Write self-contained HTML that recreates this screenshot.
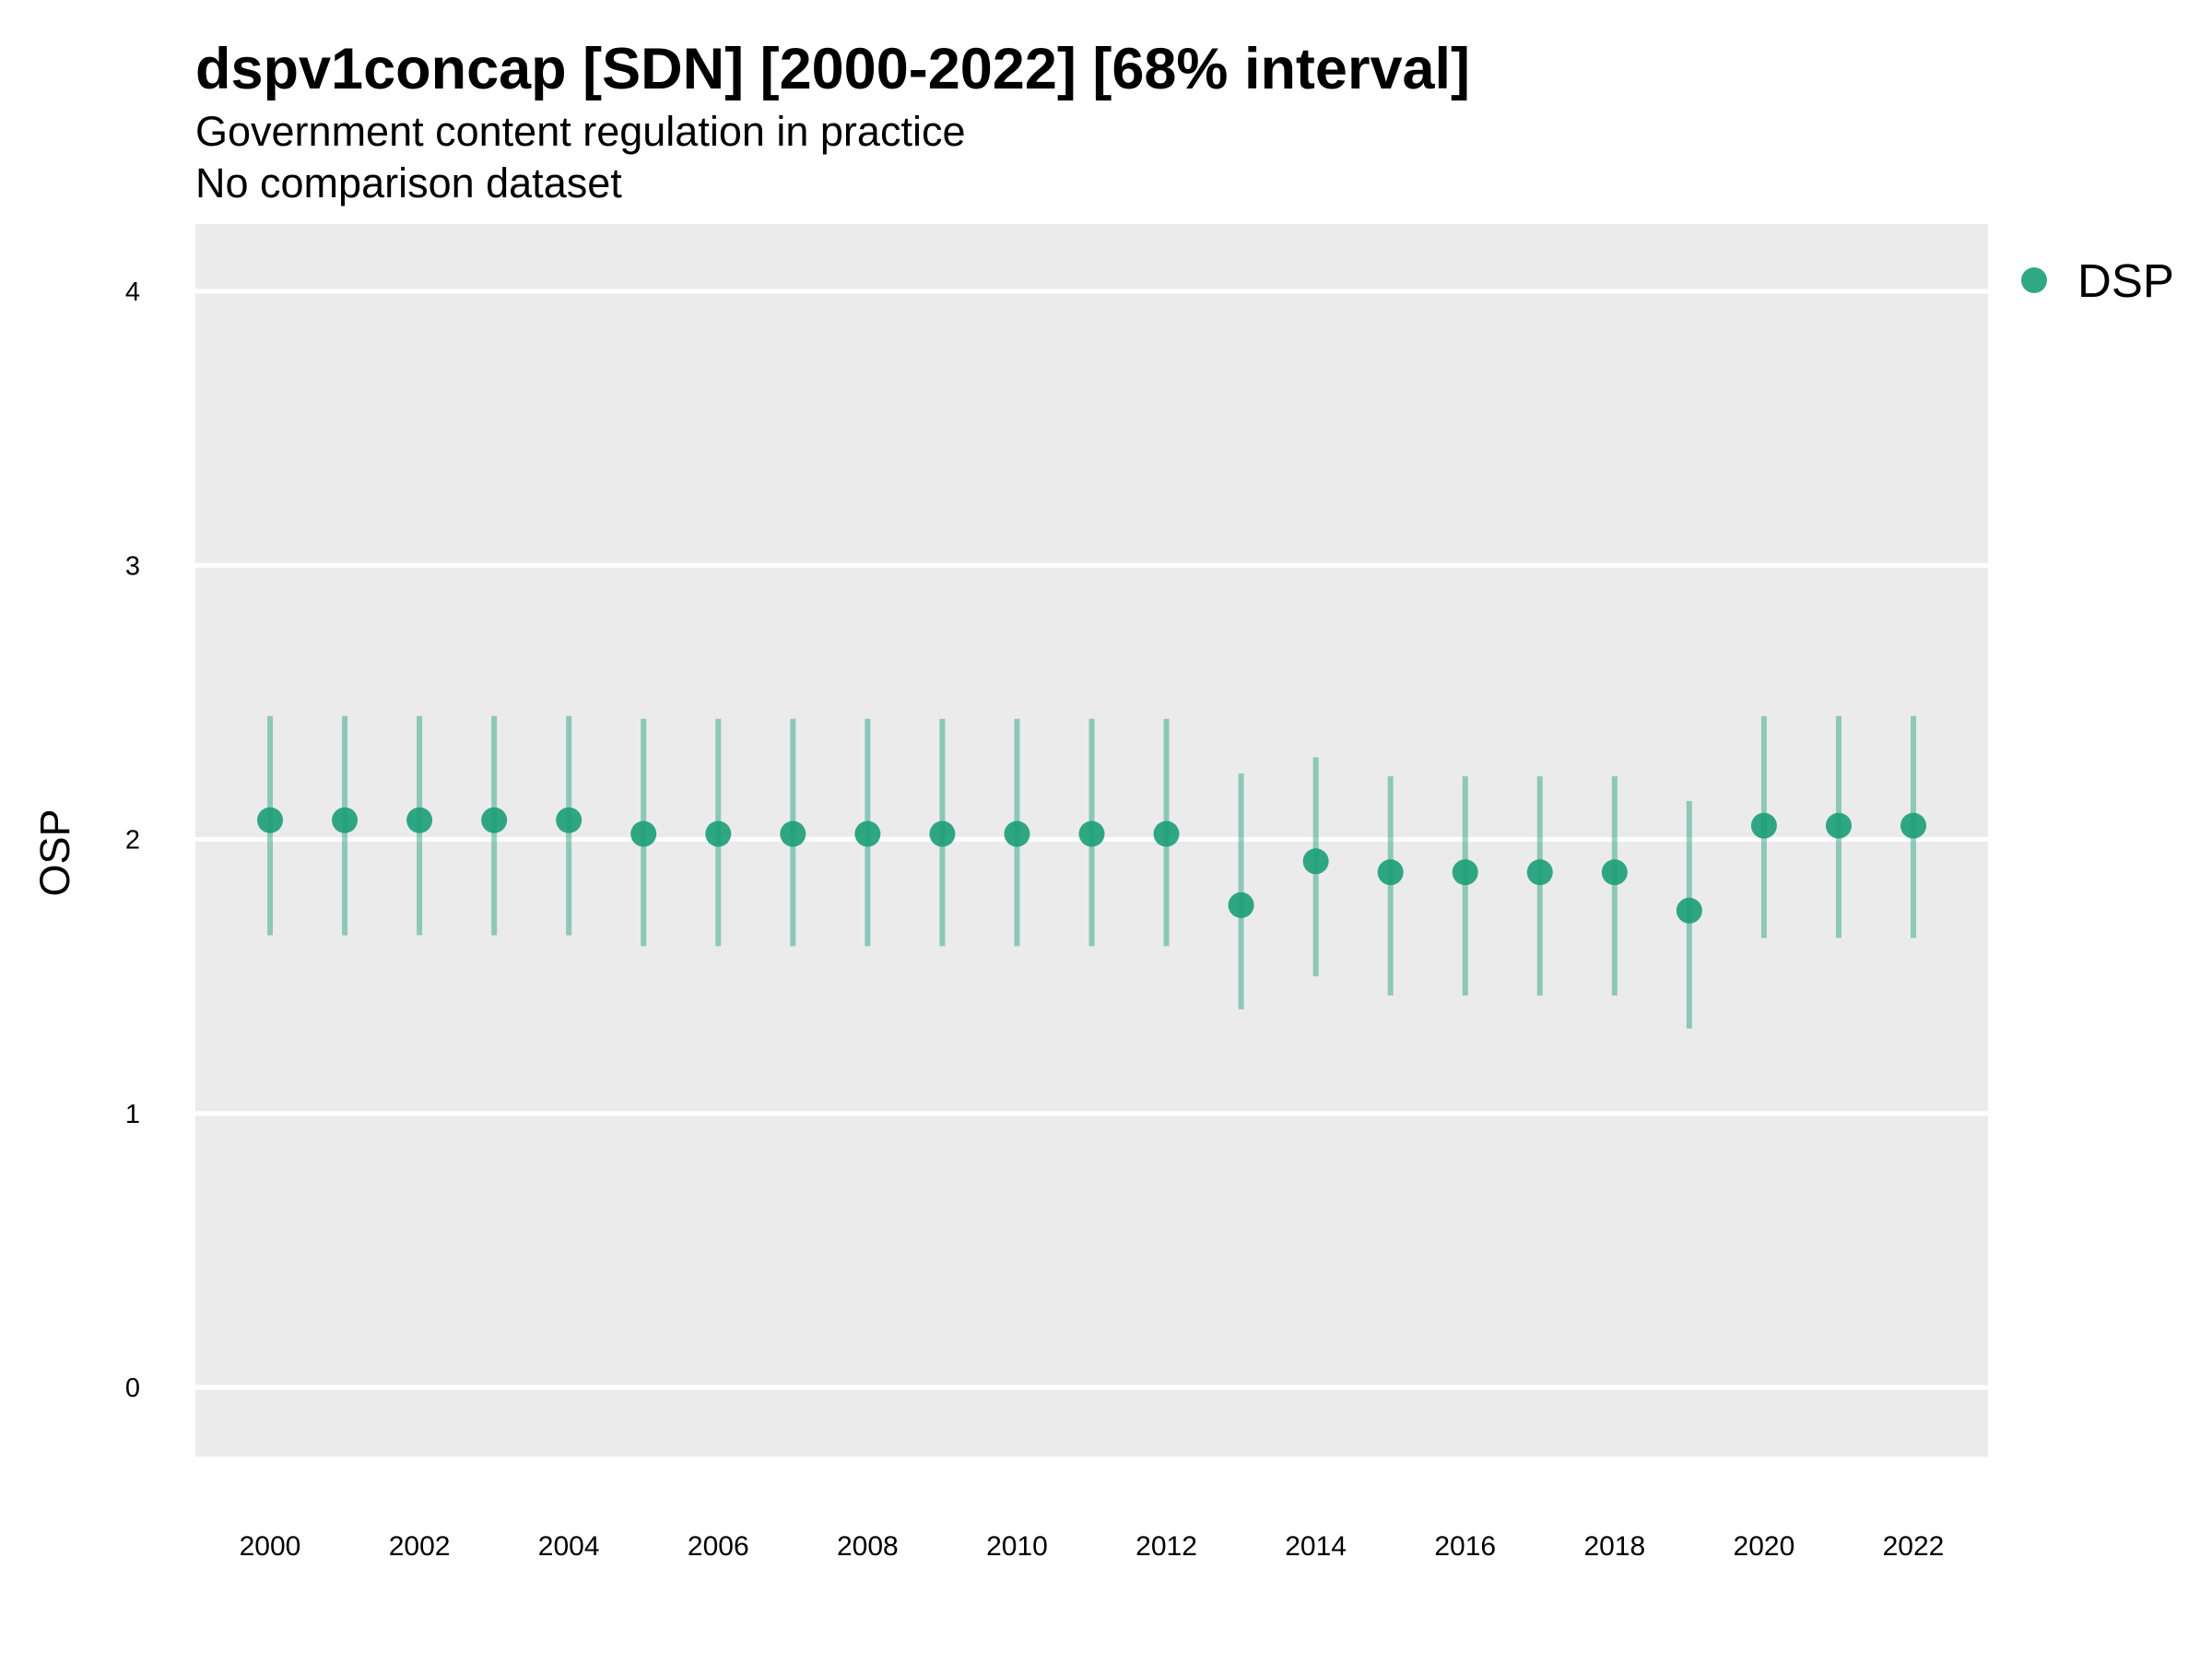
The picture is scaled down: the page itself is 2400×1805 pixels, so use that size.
<!DOCTYPE html>
<html><head><meta charset="utf-8"><style>
body{margin:0;background:#fff;}
svg text{font-family:"Liberation Sans",sans-serif;}
</style></head><body>
<svg id="chart" width="2400" height="1800" xmlns="http://www.w3.org/2000/svg">
<text x="212" y="96" font-size="63" font-weight="bold" fill="#000">dspv1concap [SDN] [2000-2022] [68% interval]</text>
<text x="212" y="158" font-size="45" fill="#000">Government content regulation in practice</text>
<text x="212" y="214" font-size="45" fill="#000">No comparison dataset</text>
<rect x="212" y="243" width="1945" height="1337" fill="#ebebeb"/>
<g id="grid"></g>
<g id="yticks"></g>
<g id="xticks"></g>
<g id="marks"></g>
<text transform="translate(75,925) rotate(-90)" text-anchor="middle" font-size="45" fill="#000">OSP</text>
<circle cx="2207" cy="304" r="14" fill="#1b9e77" fill-opacity="0.9"/>
<text x="2254" y="322" font-size="51" fill="#000">DSP</text>
</svg>
<script>
const years=[2000,2001,2002,2003,2004,2005,2006,2007,2008,2009,2010,2011,2012,2013,2014,2015,2016,2017,2018,2019,2020,2021,2022];
const values=[2.07,2.07,2.07,2.07,2.07,2.02,2.02,2.02,2.02,2.02,2.02,2.02,2.02,1.76,1.92,1.88,1.88,1.88,1.88,1.74,2.05,2.05,2.05];
const lower=[1.65,1.65,1.65,1.65,1.65,1.61,1.61,1.61,1.61,1.61,1.61,1.61,1.61,1.38,1.50,1.43,1.43,1.43,1.43,1.31,1.64,1.64,1.64];
const upper=[2.45,2.45,2.45,2.45,2.45,2.44,2.44,2.44,2.44,2.44,2.44,2.44,2.44,2.24,2.30,2.23,2.23,2.23,2.23,2.14,2.45,2.45,2.45];
const yTicks=[0,1,2,3,4];
const xTickLabels=[2000,2002,2004,2006,2008,2010,2012,2014,2016,2018,2020,2022];
const NS="http://www.w3.org/2000/svg";
const xs=y=>293+(y-2000)*(2076-293)/22;
const ys=v=>1505-v*(1505-316)/4;
function mk(tag,attrs,parent){const e=document.createElementNS(NS,tag);for(const k in attrs)e.setAttribute(k,attrs[k]);document.getElementById(parent).appendChild(e);return e;}
yTicks.forEach(t=>{
  const l=mk('line',{x1:212,x2:2157,y1:ys(t),y2:ys(t),stroke:'#fff','stroke-width':5},'grid');
  
  
  const tx=mk('text',{x:152,y:ys(t)+10,'text-anchor':'end','font-size':29,fill:'#000'},'yticks');
  tx.textContent=t;
  
  
});
xTickLabels.forEach(t=>{
  const tx=mk('text',{x:xs(t),y:1687,'text-anchor':'middle','font-size':30,fill:'#000'},'xticks');
  tx.textContent=t;
  
  
});
years.forEach((y,i)=>{
  const l=mk('line',{x1:xs(y),x2:xs(y),y1:ys(lower[i]),y2:ys(upper[i]),stroke:'#1b9e77','stroke-opacity':0.45,'stroke-width':6},'marks');
  
  
  const c=mk('circle',{cx:xs(y),cy:ys(values[i]),r:14,fill:'#1b9e77','fill-opacity':0.9},'marks');
  
  
});
</script>
</body></html>
